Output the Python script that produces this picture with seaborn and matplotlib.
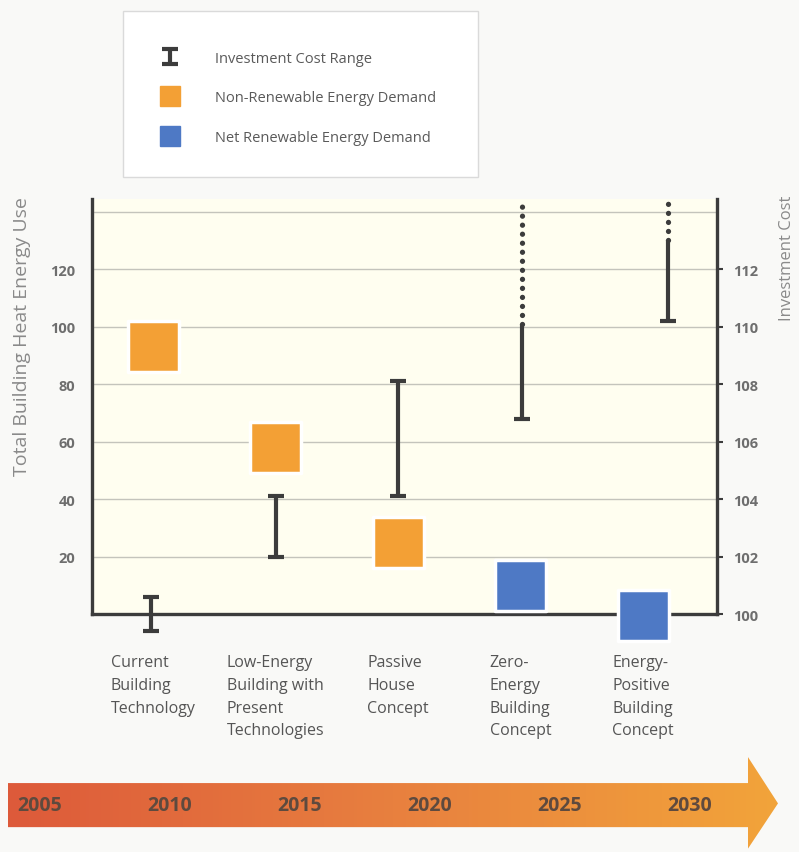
import numpy as np
import pandas as pd
import matplotlib
matplotlib.use("Agg")
import matplotlib.pyplot as plt
import seaborn as sns
from matplotlib.lines import Line2D
from matplotlib.patches import Rectangle, Polygon
from matplotlib.colors import LinearSegmentedColormap

# data
concepts = ['Current\nBuilding\nTechnology',
            'Low-Energy\nBuilding with\nPresent\nTechnologies',
            'Passive\nHouse\nConcept',
            'Zero-\nEnergy\nBuilding\nConcept',
            'Energy-\nPositive\nBuilding\nConcept']
demand = [93, 58, 25, 10, -0.5]
demand_type = ['Non-Renewable Energy Demand'] * 3 + ['Net Renewable Energy Demand'] * 2
cost_low = [99.4, 102.0, 104.1, 106.8, 110.2]
cost_high = [100.6, 104.1, 108.1, 110.1, 113.0]
cost_open_top = [np.nan, np.nan, np.nan, 114.4, 114.4]   # dotted, open-ended part
years = [2005, 2010, 2015, 2020, 2025, 2030]
energy_ticks = [20, 40, 60, 80, 100, 120, 140]
cost_ticks = [100, 102, 104, 106, 108, 110, 112]

df = pd.DataFrame({'concept': concepts, 'demand': demand, 'type': demand_type})

sns.set_theme(style="white")
plt.rcParams['font.family'] = ['Open Sans', 'DejaVu Sans']

palette = {'Non-Renewable Energy Demand': '#F3A035',
           'Net Renewable Energy Demand': '#4E79C5'}
dark = '#3c3c3c'
grey_txt = '#6e6e6e'

fig = plt.figure(figsize=(7.99, 8.53), dpi=100)
fig.patch.set_facecolor('#f9f9f7')
ax = fig.add_axes([0.115, 0.279, 0.782, 0.487])
ax.set_facecolor('#fffef0')

sns.scatterplot(data=df, x='concept', y='demand', hue='type', palette=palette,
                marker='s', s=1350, edgecolor='white', linewidth=2.5,
                legend=False, ax=ax, zorder=3, clip_on=False)

ax.set_xlim(-0.5, 4.6)
ax.set_ylim(0, 144.5)
ax.set_yticks(energy_ticks)
ax.set_yticklabels([str(t) if t < 140 else '' for t in energy_ticks])
ax.yaxis.grid(True, color='#c4c4bc', lw=1)
ax.xaxis.grid(False)
ax.set_xlabel('')
ax.set_ylabel('')
ax.set_xticks(range(len(concepts)))
ax.set_xticklabels(concepts, ha='center', multialignment='left', linespacing=1.56,
                   fontsize=11.5, color='#555555')
ax.tick_params(axis='x', length=0, pad=29)
ax.tick_params(axis='y', length=0, pad=12, labelsize=10.5, labelcolor=grey_txt)
for lab in ax.get_yticklabels():
    lab.set_fontweight('bold')
for s in ['top', 'right']:
    ax.spines[s].set_visible(False)
for s in ['left', 'bottom']:
    ax.spines[s].set_color(dark)
    ax.spines[s].set_linewidth(2.4)

# investment cost on the twin axis
ax2 = ax.twinx()
ax2.set_ylim(100, 114.45)
ax2.set_yticks(cost_ticks)
ax2.tick_params(axis='y', length=4, width=1.5, color=dark, pad=8,
                labelsize=10.5, labelcolor=grey_txt)
for lab in ax2.get_yticklabels():
    lab.set_fontweight('bold')
for s in ['top', 'left', 'bottom']:
    ax2.spines[s].set_visible(False)
ax2.spines['right'].set_color(dark)
ax2.spines['right'].set_linewidth(2.4)
ax2.grid(False)

bar_x = np.arange(len(concepts)) + np.array([-0.02, 0, 0, 0.01, 0.2])
lo = np.array(cost_low)
hi = np.array(cost_high)
closed = np.isnan(cost_open_top)
eb = ax2.errorbar(bar_x[closed], (lo[closed] + hi[closed]) / 2, yerr=(hi[closed] - lo[closed]) / 2,
                  fmt='none', ecolor=dark, elinewidth=3, capsize=6, capthick=3,
                  label='Investment Cost Range', clip_on=False, zorder=4)
for x, l, h, t in zip(bar_x[~closed], lo[~closed], hi[~closed], np.array(cost_open_top)[~closed]):
    ax2.plot([x, x], [l, h], color=dark, lw=3, zorder=4, solid_capstyle='butt')
    ax2.plot([x], [l], marker='_', markersize=12, mew=3, color=dark, zorder=4)
    ax2.plot([x, x], [h, t], color=dark, lw=3.8, linestyle=(0, (0.01, 1.7)),
             dash_capstyle='round', zorder=4, clip_on=False)

# labels
fig.text(0.028, 1 - 337 / 853, 'Total Building Heat Energy Use', rotation=90,
         ha='center', va='center', fontsize=14, color='#8a8a8a')
fig.text(0.985, 1 - 258 / 853, 'Investment Cost', rotation=90,
         ha='center', va='center', fontsize=12, color='#8a8a8a')

# legend box
fig.patches.append(Rectangle((0.154, 0.791), 0.444, 0.195, transform=fig.transFigure,
                             facecolor='white', edgecolor='#dadada', lw=1, zorder=0))
handles = [eb,
           Line2D([], [], ls='none', marker='s', markersize=15, color=palette['Non-Renewable Energy Demand']),
           Line2D([], [], ls='none', marker='s', markersize=15, color=palette['Net Renewable Energy Demand'])]
labels = ['Investment Cost Range', 'Non-Renewable Energy Demand', 'Net Renewable Energy Demand']
fig.legend(handles, labels, loc='upper left', bbox_to_anchor=(0.187, 0.955),
           frameon=False, fontsize=10.5, labelcolor='#5a5a5a', handlelength=1.0,
           handletextpad=2.6, labelspacing=1.69)

# timeline arrow
axt = fig.add_axes([0, 0, 1, 113 / 853])
axt.set_xlim(2005 - 40 / 26, 2005 + 759 / 26)
axt.set_ylim(0, 1)
axt.axis('off')
x0, xb, xt = 2005 - 32 / 26, 2005 + 708 / 26, 2005 + 738 / 26
arrow = Polygon([(x0, 0.22), (xb, 0.22), (xb, 0.03), (xt, 0.43),
                 (xb, 0.84), (xb, 0.61), (x0, 0.61)], closed=True,
                facecolor='none', edgecolor='none')
axt.add_patch(arrow)
cmap = LinearSegmentedColormap.from_list('tl', ['#DD5A3A', '#E8803F', '#F2A43A'])
im = axt.imshow(np.linspace(0, 1, 256).reshape(1, -1), extent=[x0, xt, 0.03, 0.84],
                cmap=cmap, aspect='auto', zorder=1)
im.set_clip_path(arrow)
for yr in years:
    axt.text(yr, 0.415, str(yr), ha='center', va='center', fontsize=14,
             fontweight='bold', color='#5e4a3e', zorder=2)

fig.savefig('out.png', dpi=100, facecolor=fig.get_facecolor())
